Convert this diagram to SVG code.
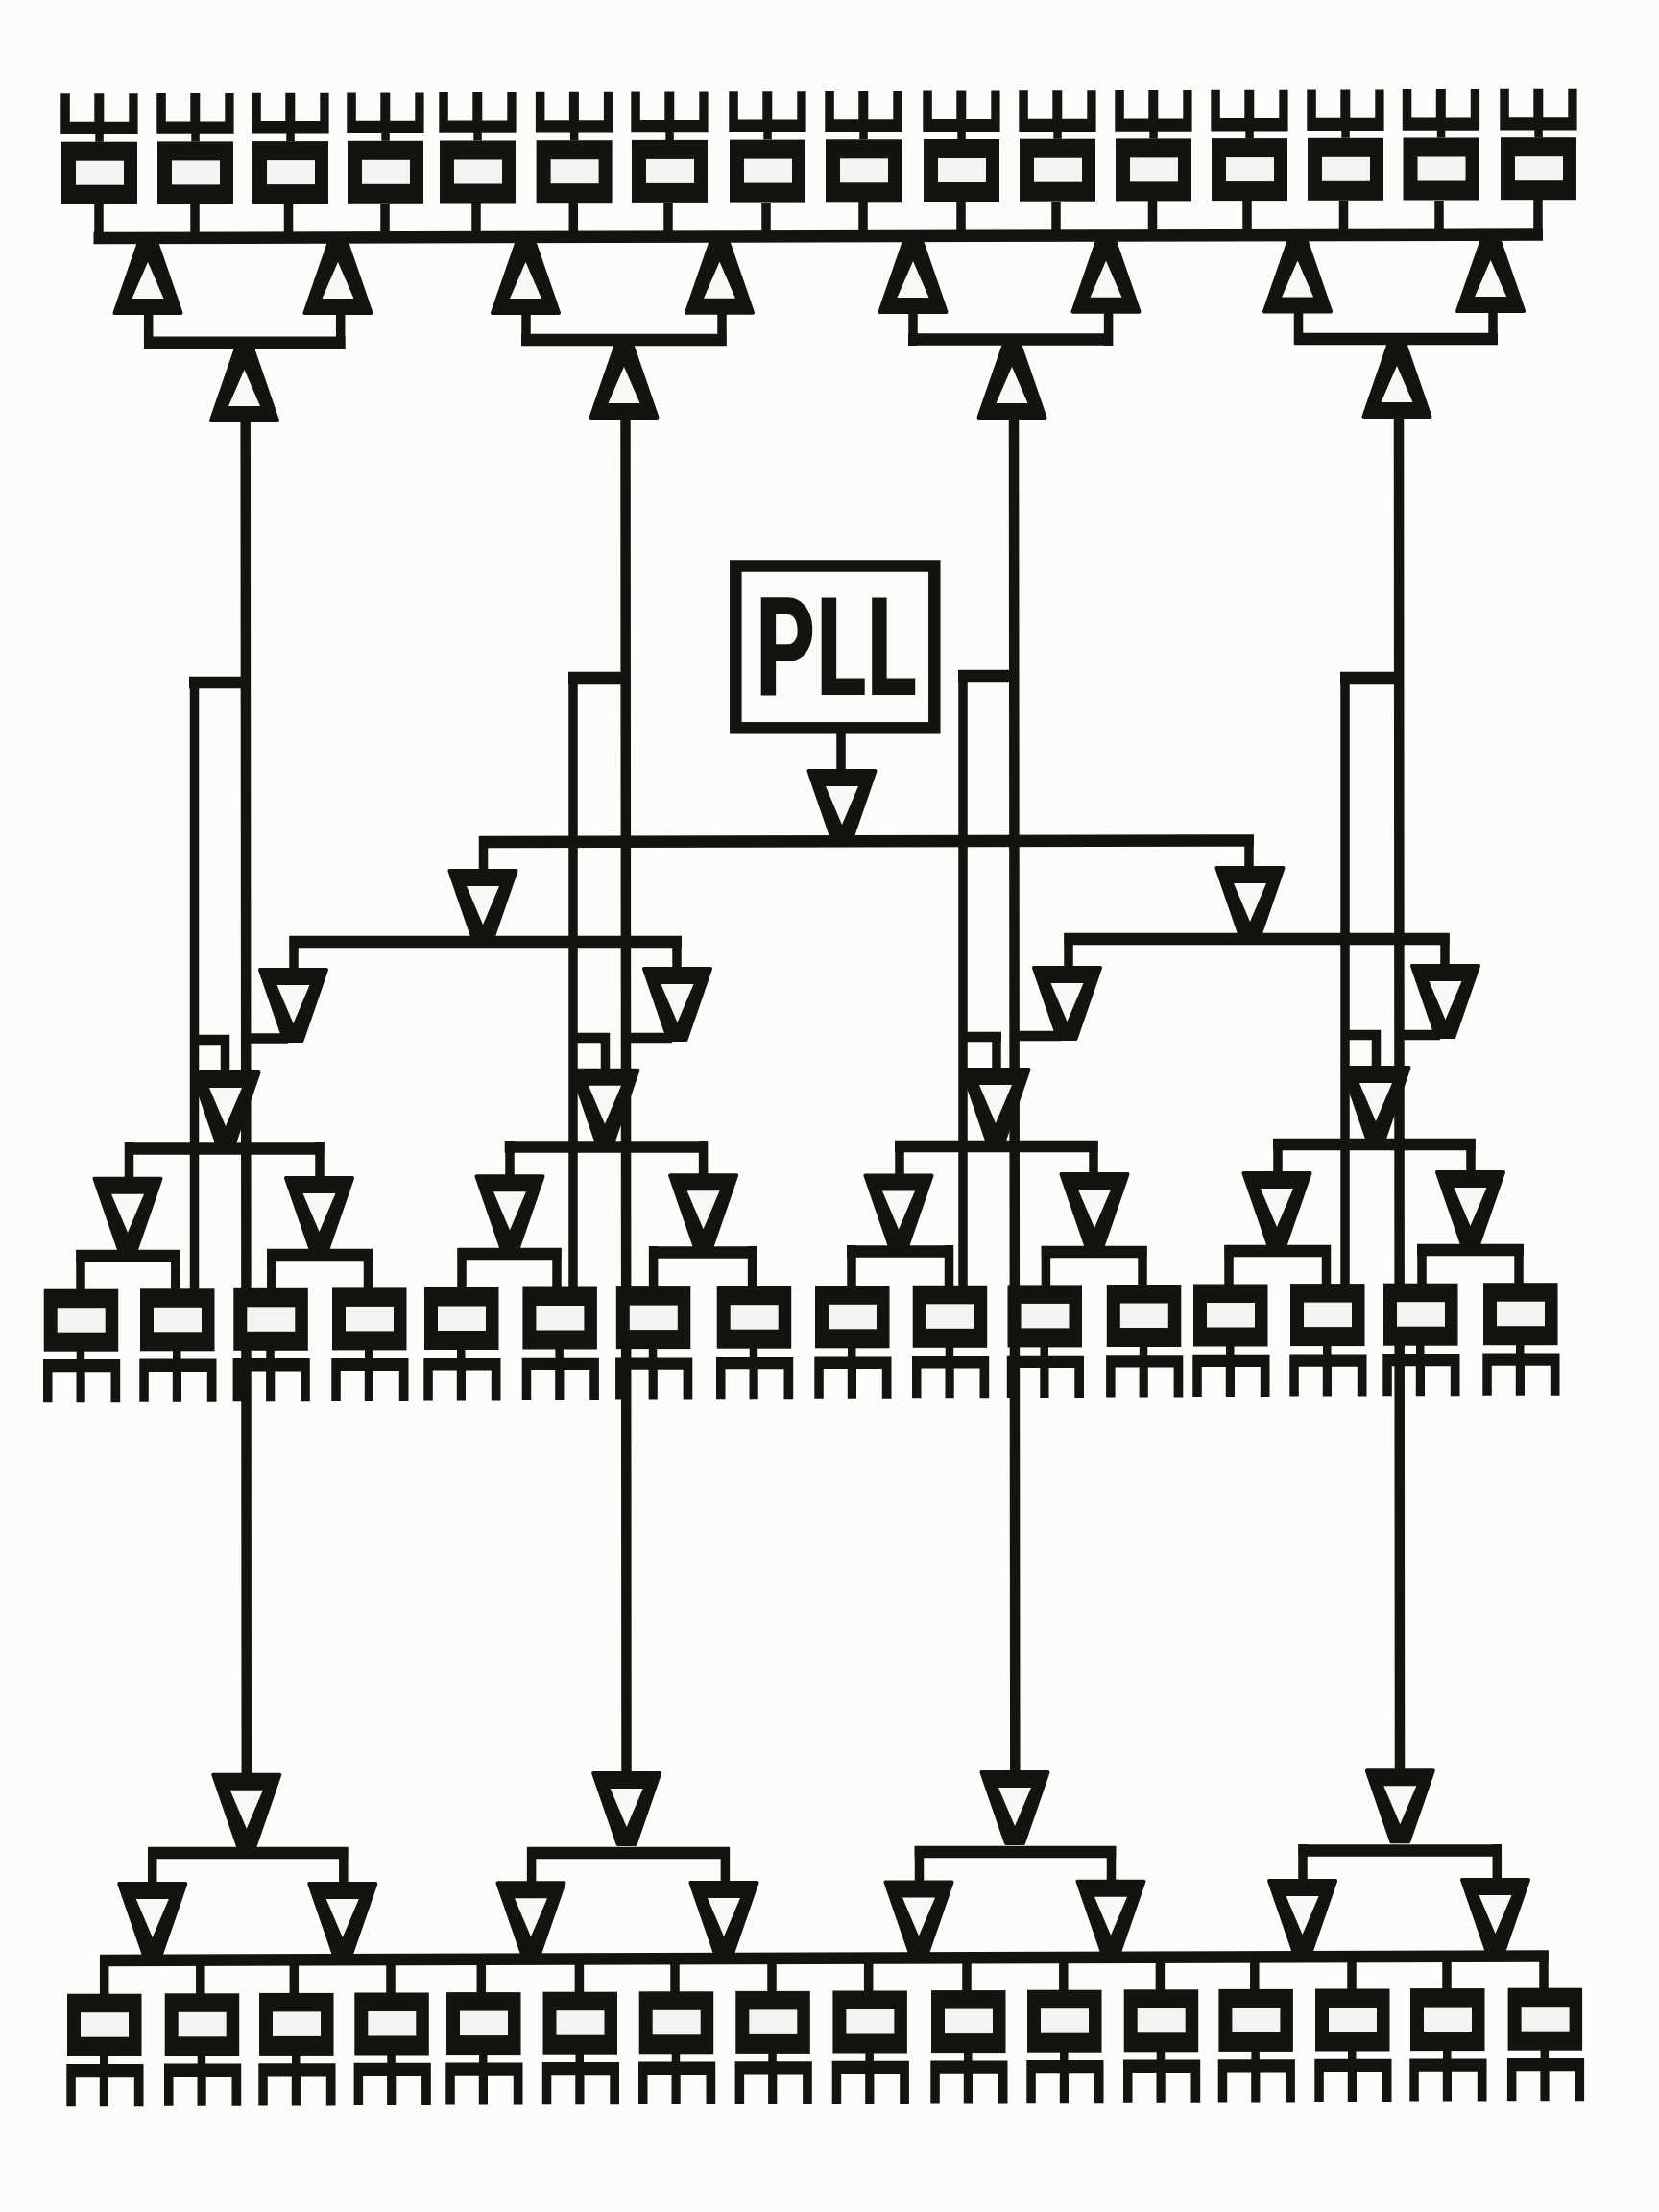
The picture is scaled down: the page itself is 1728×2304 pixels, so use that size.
<svg xmlns="http://www.w3.org/2000/svg" width="1728" height="2304" viewBox="0 0 1728 2304">
<style>
.ink{fill:#151310}
.hole{fill:#f3f3f1}
.thole{fill:#f8f8f6}
.tri{fill:#151310;stroke:#151310;stroke-width:4;stroke-linejoin:round}
.h{fill:none;stroke:#151310;stroke-width:12.5}
.v{fill:none;stroke:#151310;stroke-width:9.5}
.m{fill:none;stroke:#151310;stroke-width:10.5}
.pll{font-family:Roboto,"Liberation Sans",sans-serif;font-weight:800;font-size:143px;fill:#151310}
</style>
<defs>
<g id="ffT">
<path class="ink" d="M-.7 -50.4H8.8V-21H34.3V-50.4H44.3V-21H70.3V-50.4H79.6V-7.7H43.8V0H35.3V-7.7H-.7Z"/>
<rect class="ink" x="0" y="0" width="79" height="65"/>
<rect class="hole" x="15" y="20" width="50" height="25"/>
</g>
<g id="ffB">
<path class="ink" d="M34 64H42.5V73.3H79.5V117.5H69.8V86.6H43V117.5H33.8V86.6H8.8V117.5H-.7V73.3H34Z"/>
<rect class="ink" x="0" y="0" width="77.5" height="65"/>
<rect class="hole" x="14" y="19.5" width="50" height="25.5"/>
</g>
<g id="td">
<path class="tri" d="M-34.5 2H34.5L9 76H-9Z"/>
<path class="thole" d="M-17 18H17L0 58Z"/>
</g>
<g id="tu">
<path class="tri" d="M-34.5 -2H34.5L9 -76H-9Z"/>
<path class="thole" d="M-16.5 -17H16.5L0 -55Z"/>
</g>
</defs>
<rect width="1728" height="2304" fill="#fcfcfb"/>
<g id="connectors">
<path class="h" d="M97.5 248L1607 244.5"/>
<path class="v" d="M103 212V248M203 212V248M300.5 212V247.5M401 212V247M496 211V247M597.3 211V247M696 211V246.5M798 211V246M899 210V246M1001 210V246M1100 210V246M1200.5 209V245.5M1299 209V245M1399.5 209V245M1499 209V244.5M1602 208V250"/>
<path class="h" d="M150 356.7H359.5M543 354H756.5M946 353.5H1159M1348 353H1560"/>
<path class="v" d="M154.7 325V363M354.7 325V363M548 325V360M752 325V360M951 325V360M1154.6 325V360M1352.5 325V359M1555 325V359"/>
<path class="m" d="M255.7 436L256.8 1850M651.5 434L652.5 1848M1056 434L1057.3 1847M1457 434L1458 1845"/>
<path class="h" d="M197 711H256M592 706H651.5M998 704H1056M1396 706H1457"/>
<path class="v" d="M202.5 705V1345M597 700V1342M1003 698V1340M1401 700V1338"/>
<path class="m" d="M203 1083H239M256 1081.5H300M597 1081H635M651.5 1081H700M1003 1080H1043M1057 1079H1105M1401 1078H1438M1457.5 1078H1500"/>
<path class="v" d="M234.5 1078V1117M630.5 1076V1115M1038 1075V1114M1433.5 1073V1112"/>
<path class="v" d="M876 764V803"/>
<path class="h" d="M499 877L1306 875.5M301.7 981H710M1108.4 978H1509.5"/>
<path class="v" d="M503.5 871V907M1301 870V904M306 975V1010M705 975V1009M1113 972V1008M1505 972V1006"/>
<path class="h" d="M130 1196.5H337.5M525.7 1194.5H737M932 1194H1143.6M1326 1192H1536.7"/>
<path class="v" d="M134.5 1190V1227M333 1190V1227M531 1188V1225M732.6 1188V1224M937 1188V1224M1139 1188V1223M1331 1186V1222M1532 1186V1221"/>
<path class="h" d="M79.3 1308H187.3M278.3 1307H388.3M476.8 1306H584.6M676 1304.5H788M882 1303.5H993M1084.8 1304H1194.6M1275.5 1303H1386M1476 1302H1587"/>
<path class="v" d="M84 1302V1344M182.8 1302V1344M282.8 1301V1343M383.5 1301V1343M481 1300V1342M580 1300V1342M680.6 1298V1341M783.6 1298V1341M887 1297V1340M988.5 1297V1340M1089.4 1298V1340M1190 1298V1339M1280 1297V1339M1381.5 1297V1338M1481 1296V1338M1582 1296V1337"/>
<path class="h" d="M154 1930H362.3M549 1930H760M952.7 1929H1162.3M1352.5 1927.4H1564"/>
<path class="v" d="M158.7 1924V1961M357.8 1924V1961M553.6 1924V1961M755.4 1924V1961M957.5 1923V1960M1157.5 1923V1959M1357 1921V1958M1559.3 1921V1958"/>
<path class="h" d="M104 2042L1612.7 2037.5"/>
<path class="v" d="M108.7 2036V2078M208.8 2042V2078M306.3 2042V2077M407 2041V2077M501.3 2041V2076M603.4 2041V2076M703 2041V2075M804 2040V2075M904.7 2040V2075M1007 2040V2074M1107.8 2040V2074M1208.4 2039V2074M1306.8 2039V2073M1408 2039V2073M1507 2038V2073M1608 2032V2072"/>
</g>
<g id="pll">
<rect x="766.3" y="589.5" width="207" height="168.8" fill="#fbfbf9" stroke="#151310" stroke-width="12.5"/>
<text class="pll" x="787" y="724.3" textLength="168" lengthAdjust="spacingAndGlyphs">PLL</text>
</g>
<g id="clock-tree">
<g id="buf-pll"><use href="#td" x="877" y="801"/></g>
<g id="buf-l1-1"><use href="#td" x="503" y="905"/></g>
<g id="buf-l1-2"><use href="#td" x="1302" y="902"/></g>
<g id="buf-l2-1"><use href="#td" x="305.5" y="1008"/></g>
<g id="buf-l2-2"><use href="#td" x="705.5" y="1007"/></g>
<g id="buf-l2-3"><use href="#td" x="1111.5" y="1006"/></g>
<g id="buf-l2-4"><use href="#td" x="1505.5" y="1004"/></g>
<g id="buf-l3-1"><use href="#td" x="235" y="1115"/></g>
<g id="buf-l3-2"><use href="#td" x="630" y="1112.7"/></g>
<g id="buf-l3-3"><use href="#td" x="1037" y="1112"/></g>
<g id="buf-l3-4"><use href="#td" x="1433" y="1110"/></g>
<g id="buf-l4-1"><use href="#td" x="133" y="1225.7"/></g>
<g id="buf-l4-2"><use href="#td" x="332.5" y="1225"/></g>
<g id="buf-l4-3"><use href="#td" x="531" y="1223.3"/></g>
<g id="buf-l4-4"><use href="#td" x="732.6" y="1222.3"/></g>
<g id="buf-l4-5"><use href="#td" x="936" y="1222.5"/></g>
<g id="buf-l4-6"><use href="#td" x="1140" y="1221"/></g>
<g id="buf-l4-7"><use href="#td" x="1330" y="1220"/></g>
<g id="buf-l4-8"><use href="#td" x="1531.5" y="1219"/></g>
</g>
<g id="top-buffers">
<g id="top-a1"><use href="#tu" x="154" y="328"/></g>
<g id="top-a2"><use href="#tu" x="352" y="328"/></g>
<g id="top-a3"><use href="#tu" x="547.5" y="328"/></g>
<g id="top-a4"><use href="#tu" x="749.5" y="327.7"/></g>
<g id="top-a5"><use href="#tu" x="951" y="327"/></g>
<g id="top-a6"><use href="#tu" x="1152" y="326.7"/></g>
<g id="top-a7"><use href="#tu" x="1351.6" y="326.5"/></g>
<g id="top-a8"><use href="#tu" x="1552.6" y="326"/></g>
<g id="top-b1"><use href="#tu" x="254.5" y="440"/></g>
<g id="top-b2"><use href="#tu" x="650" y="437"/></g>
<g id="top-b3"><use href="#tu" x="1054" y="437"/></g>
<g id="top-b4"><use href="#tu" x="1455" y="436"/></g>
</g>
<g id="bottom-buffers">
<g id="bot-b1"><use href="#td" x="256.8" y="1846.7"/></g>
<g id="bot-b2"><use href="#td" x="652.7" y="1845"/></g>
<g id="bot-b3"><use href="#td" x="1057" y="1844"/></g>
<g id="bot-b4"><use href="#td" x="1458.3" y="1842.3"/></g>
<g id="bot-a1"><use href="#td" x="158.8" y="1960"/></g>
<g id="bot-a2"><use href="#td" x="356.8" y="1960"/></g>
<g id="bot-a3"><use href="#td" x="553" y="1959.3"/></g>
<g id="bot-a4"><use href="#td" x="754" y="1959"/></g>
<g id="bot-a5"><use href="#td" x="957" y="1958.5"/></g>
<g id="bot-a6"><use href="#td" x="1157" y="1957.7"/></g>
<g id="bot-a7"><use href="#td" x="1356.6" y="1957"/></g>
<g id="bot-a8"><use href="#td" x="1557.5" y="1956"/></g>
</g>
<g id="top-row">
<g id="ft1"><use href="#ffT" x="64" y="147.7"/></g>
<g id="ft2"><use href="#ffT" x="164" y="147.4"/></g>
<g id="ft3"><use href="#ffT" x="263" y="147.1"/></g>
<g id="ft4"><use href="#ffT" x="362" y="146.8"/></g>
<g id="ft5"><use href="#ffT" x="458" y="146.5"/></g>
<g id="ft6"><use href="#ffT" x="558.6" y="146.2"/></g>
<g id="ft7"><use href="#ffT" x="658" y="145.9"/></g>
<g id="ft8"><use href="#ffT" x="760" y="145.6"/></g>
<g id="ft9"><use href="#ffT" x="860" y="145.3"/></g>
<g id="ft10"><use href="#ffT" x="962" y="145"/></g>
<g id="ft11"><use href="#ffT" x="1062" y="144.7"/></g>
<g id="ft12"><use href="#ffT" x="1162" y="144.4"/></g>
<g id="ft13"><use href="#ffT" x="1262" y="144.1"/></g>
<g id="ft14"><use href="#ffT" x="1362" y="143.8"/></g>
<g id="ft15"><use href="#ffT" x="1461.5" y="143.5"/></g>
<g id="ft16"><use href="#ffT" x="1563" y="143.2"/></g>
</g>
<g id="middle-row">
<g id="fm1"><use href="#ffB" x="45.7" y="1342.7"/></g>
<g id="fm2"><use href="#ffB" x="146" y="1342.3"/></g>
<g id="fm3"><use href="#ffB" x="243.3" y="1341.8"/></g>
<g id="fm4"><use href="#ffB" x="346" y="1341.4"/></g>
<g id="fm5"><use href="#ffB" x="442" y="1341"/></g>
<g id="fm6"><use href="#ffB" x="544.4" y="1340.5"/></g>
<g id="fm7"><use href="#ffB" x="641.8" y="1340.1"/></g>
<g id="fm8"><use href="#ffB" x="746.7" y="1339.7"/></g>
<g id="fm9"><use href="#ffB" x="849" y="1339.3"/></g>
<g id="fm10"><use href="#ffB" x="950.7" y="1338.8"/></g>
<g id="fm11"><use href="#ffB" x="1049.5" y="1338.4"/></g>
<g id="fm12"><use href="#ffB" x="1152.8" y="1338"/></g>
<g id="fm13"><use href="#ffB" x="1243" y="1337.5"/></g>
<g id="fm14"><use href="#ffB" x="1344" y="1337.1"/></g>
<g id="fm15"><use href="#ffB" x="1441" y="1336.7"/></g>
<g id="fm16"><use href="#ffB" x="1545" y="1336.2"/></g>
</g>
<g id="bottom-row">
<g id="fb1"><use href="#ffB" x="70" y="2076.7"/></g>
<g id="fb2"><use href="#ffB" x="171.7" y="2076.3"/></g>
<g id="fb3"><use href="#ffB" x="270" y="2075.9"/></g>
<g id="fb4"><use href="#ffB" x="369.3" y="2075.5"/></g>
<g id="fb5"><use href="#ffB" x="465" y="2075.1"/></g>
<g id="fb6"><use href="#ffB" x="565.5" y="2074.7"/></g>
<g id="fb7"><use href="#ffB" x="665.7" y="2074.3"/></g>
<g id="fb8"><use href="#ffB" x="766.3" y="2073.9"/></g>
<g id="fb9"><use href="#ffB" x="867.4" y="2073.5"/></g>
<g id="fb10"><use href="#ffB" x="970" y="2073.1"/></g>
<g id="fb11"><use href="#ffB" x="1070" y="2072.7"/></g>
<g id="fb12"><use href="#ffB" x="1170.7" y="2072.3"/></g>
<g id="fb13"><use href="#ffB" x="1269.4" y="2071.9"/></g>
<g id="fb14"><use href="#ffB" x="1370" y="2071.5"/></g>
<g id="fb15"><use href="#ffB" x="1469" y="2071.1"/></g>
<g id="fb16"><use href="#ffB" x="1570.6" y="2070.7"/></g>
</g>
</svg>
